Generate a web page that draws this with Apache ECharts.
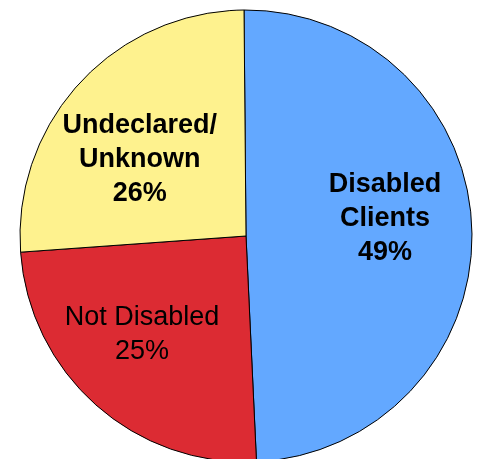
<!DOCTYPE html>
<html>
<head>
<meta charset="utf-8">
<script src="https://cdn.jsdelivr.net/npm/echarts@6/dist/echarts.min.js"></script>
<style>
  html, body { margin: 0; padding: 0; background: #fff; }
  #chart { width: 479px; height: 459px; }
</style>
</head>
<body>
<div id="chart"></div>
<script>
// slice data, clockwise from 12 o'clock (shares)
var names = ['Disabled\nClients', 'Not Disabled', 'Undeclared/\nUnknown']
var values = [49.4, 24.6, 26.0]

// look of each slice
var colors = ['#63a8ff', '#dc2b33', '#fef28e']
var weights = ['bold', 'normal', 'bold']
var offsets = [[23, -14], [-27, 12], [-21, 2]]

var pieData = []
for (var i = 0; i < names.length; i++) {
  pieData.push({
    name: names[i],
    value: values[i],
    itemStyle: { color: colors[i] },
    label: { fontWeight: weights[i], offset: offsets[i] }
  })
}

var chart = echarts.init(document.getElementById('chart'))
chart.setOption({
  backgroundColor: '#ffffff',
  animation: false,
  series: [{
    type: 'pie',
    center: [246, 236],
    radius: 226,
    startAngle: 90.5,
    clockwise: true,
    avoidLabelOverlap: false,
    itemStyle: {
      borderColor: '#000',
      borderWidth: 1
    },
    label: {
      show: true,
      position: 'inside',
      formatter: function (p) {
        return p.name + '\n' + Math.round(p.percent) + '%'
      },
      color: '#000',
      fontFamily: 'Liberation Sans, Arial, sans-serif',
      fontSize: 27,
      lineHeight: 34,
      align: 'center'
    },
    labelLine: { show: false },
    emphasis: { disabled: true },
    data: pieData
  }]
})
</script>
</body>
</html>
